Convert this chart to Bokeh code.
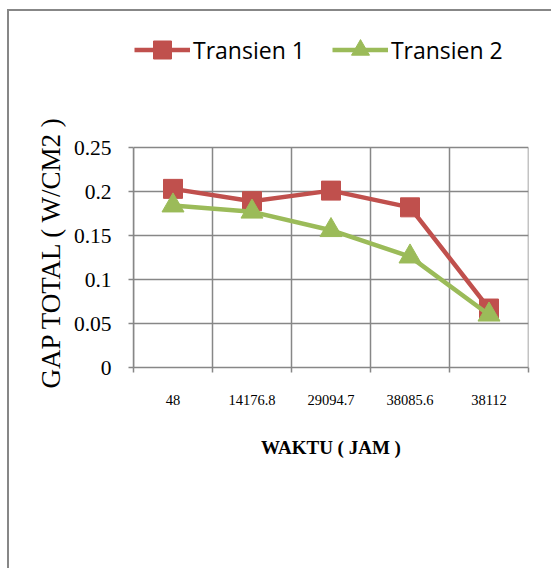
from bokeh.plotting import figure
from bokeh.models import FixedTicker, Legend, LegendItem, Range1d, Title
from bokeh.embed import file_html
from bokeh.resources import INLINE

categories = ["48", "14176.8", "29094.7", "38085.6", "38112"]
transien1 = [0.203, 0.189, 0.201, 0.182, 0.067]
transien2 = [0.184, 0.177, 0.156, 0.126, 0.060]
y_ticks = [0, 0.05, 0.1, 0.15, 0.2, 0.25]
y_tick_labels = ["0", "0.05", "0.1", "0.15", "0.2", "0.25"]

RED = "#C0504D"
GREEN = "#9BBB59"
GRID = "#878787"

# canvas geometry (canvas sits inside an outer chart border)
CW, CH = 544, 559
LEFT, RIGHT, TOP, BOTTOM = 124, 25, 9, 203
AREA_H = 220                      # pixel height of the 0 .. 0.25 plot area
frame_h = CH - TOP - BOTTOM
y_max = y_ticks[-1]
y_end = y_max * frame_h / AREA_H  # frame extends above the plot area to host the legend

xs = [i + 0.5 for i in range(len(categories))]
bounds = list(range(len(categories) + 1))

p = figure(width=CW, height=CH, output_backend="svg", toolbar_location=None,
           x_range=Range1d(0, len(categories)), y_range=Range1d(0, y_end),
           min_border_left=LEFT, min_border_right=RIGHT, min_border_top=TOP,
           min_border_bottom=BOTTOM)
p.styles = {"margin-left": "7px", "margin-top": "9px",
            "border-left": "2px solid #878787", "border-top": "2px solid #878787"}
p.outline_line_color = None
p.background_fill_color = "white"
p.border_fill_color = "white"

# grid: horizontal lines from the grid, vertical lines only over the plot area
p.xgrid.visible = False
p.ygrid.ticker = FixedTicker(ticks=y_ticks)
p.ygrid.grid_line_color = GRID
p.ygrid.grid_line_width = 1.5
p.segment(x0=bounds, y0=[0] * len(bounds), x1=bounds, y1=[y_max] * len(bounds),
          line_color=GRID, line_width=1.5, level="underlay")

# x axis
xa = p.xaxis[0]
xa.ticker = FixedTicker(ticks=xs, minor_ticks=bounds)
xa.major_label_overrides = {x: c for x, c in zip(xs, categories)}
xa.major_tick_out = 0
xa.major_tick_in = 0
xa.minor_tick_out = 5
xa.minor_tick_in = 0
xa.minor_tick_line_color = GRID
xa.minor_tick_line_width = 1.5
xa.axis_line_color = GRID
xa.axis_line_width = 1.5
xa.major_label_text_font = "Liberation Serif"
xa.major_label_text_font_size = "14.5px"
xa.major_label_text_color = "black"
xa.major_label_standoff = 22
xa.axis_label = "WAKTU ( JAM )"
xa.axis_label_text_font = "Liberation Serif"
xa.axis_label_text_font_style = "bold"
xa.axis_label_text_font_size = "19px"
xa.axis_label_text_color = "black"
xa.axis_label_standoff = 29

# y axis
ya = p.yaxis[0]
ya.bounds = (0, y_max)
ya.ticker = FixedTicker(ticks=y_ticks)
ya.major_label_overrides = {t: l for t, l in zip(y_ticks, y_tick_labels)}
ya.major_tick_out = 5
ya.major_tick_in = 0
ya.minor_tick_out = 0
ya.minor_tick_in = 0
ya.major_tick_line_color = GRID
ya.major_tick_line_width = 1.5
ya.axis_line_color = GRID
ya.axis_line_width = 1.5
ya.major_label_text_font = "Liberation Serif"
ya.major_label_text_font_size = "21.5px"
ya.major_label_text_color = "black"
ya.major_label_standoff = 17

# y axis title, centred on the plot area rather than on the taller frame
ytitle = Title(text="GAP TOTAL ( W/CM2 )", align="left", offset=-21,
               vertical_align="middle", text_font="Liberation Serif",
               text_font_size="27px", text_font_style="normal", text_color="black",
               standoff=8)
p.add_layout(ytitle, "left")

# series
l1 = p.line(xs, transien1, line_color=RED, line_width=4.5)
m1 = p.scatter(xs, transien1, marker="square", size=19, fill_color=RED, line_color=RED)
l2 = p.line(xs, transien2, line_color=GREEN, line_width=4.5)
m2 = p.scatter(xs, transien2, marker="triangle", size=22, fill_color=GREEN, line_color=GREEN)

legend = Legend(items=[LegendItem(label="Transien 1", renderers=[l1, m1]),
                       LegendItem(label="Transien 2", renderers=[l2, m2])],
                orientation="horizontal", location=(1, 295))
legend.glyph_width = 56
legend.glyph_height = 45
legend.label_standoff = 3
legend.spacing = 27
legend.padding = 0
legend.margin = 0
legend.border_line_color = None
legend.background_fill_alpha = 0
legend.label_text_font = "Open Sans"
legend.label_text_font_size = "23px"
legend.label_text_color = "black"
p.add_layout(legend, "center")

open("out.html", "w").write(file_html(p, INLINE))
